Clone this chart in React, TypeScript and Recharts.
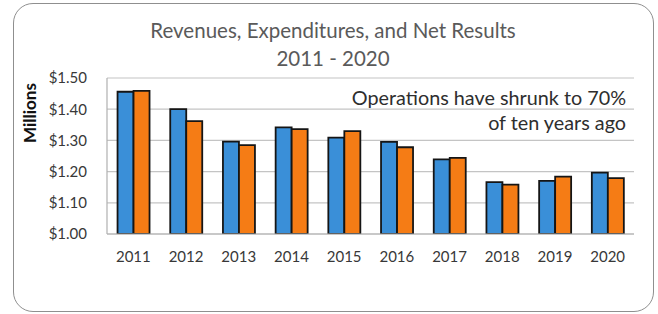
import React from 'react';
import { BarChart, Bar, XAxis, YAxis, CartesianGrid } from 'recharts';

const years = ['2011', '2012', '2013', '2014', '2015', '2016', '2017', '2018', '2019', '2020'];
const revenues = [1.456, 1.4, 1.296, 1.342, 1.309, 1.295, 1.239, 1.166, 1.17, 1.197];
const expenditures = [1.459, 1.362, 1.285, 1.336, 1.33, 1.278, 1.244, 1.158, 1.184, 1.179];
const yTicks = [1.0, 1.1, 1.2, 1.3, 1.4, 1.5];
const titleLines = ['Revenues, Expenditures, and Net Results', '2011 - 2020'];
const noteLines = ['Operations have shrunk to 70%', 'of ten years ago'];
const yAxisTitle = 'Millions';

const data = years.map((y, i) => ({ year: y, revenues: revenues[i], expenditures: expenditures[i] }));

const FONT = 'Lato, "Open Sans", sans-serif';

export default function App() {
  return (
    <div style={{ position: 'absolute', left: 0, top: 0, width: 658, height: 314, background: '#fff', fontFamily: FONT }}>
      <div
        style={{
          position: 'absolute',
          left: 13,
          top: 3,
          width: 641,
          height: 309,
          boxSizing: 'border-box',
          border: '1.5px solid #8f8f8f',
          borderRadius: 20,
        }}
      />
      <div style={{ position: 'absolute', left: 0, top: 0 }}>
        <BarChart
          width={658}
          height={314}
          data={data}
          margin={{ top: 78, right: 24, bottom: 50, left: 47 }}
          barCategoryGap="20%"
          barGap={0}
        >
          <CartesianGrid vertical={false} stroke="#c4c4c4" strokeWidth={1.2} />
          <XAxis
            dataKey="year"
            height={30}
            tickLine={false}
            tickSize={0}
            tickMargin={17}
            axisLine={{ stroke: '#b0b0b0', strokeWidth: 1.2 }}
            tick={{ fill: '#383838', fontSize: 15, fontFamily: FONT }}
            interval={0}
          />
          <YAxis
            width={60}
            domain={[1.0, 1.5]}
            ticks={yTicks}
            tickFormatter={(v: number) => '$' + v.toFixed(2)}
            tickLine={false}
            tickSize={0}
            tickMargin={20}
            axisLine={{ stroke: '#b0b0b0', strokeWidth: 1.2 }}
            tick={{ fill: '#383838', fontSize: 15, fontFamily: FONT }}
            allowDataOverflow
          />
          <Bar dataKey="revenues" fill="#3a8fd8" stroke="#151515" strokeWidth={1.8} isAnimationActive={false} />
          <Bar dataKey="expenditures" fill="#f57c15" stroke="#151515" strokeWidth={1.8} isAnimationActive={false} />
        </BarChart>
      </div>
      {titleLines.map((t, i) => (
        <div
          key={t}
          style={{
            position: 'absolute',
            left: 333,
            top: 30 + i * 28,
            transform: 'translate(-50%, -50%)',
            whiteSpace: 'nowrap',
            fontSize: 20.5,
            color: '#5a5a5a',
          }}
        >
          {t}
        </div>
      ))}
      {noteLines.map((t, i) => (
        <div
          key={t}
          style={{
            position: 'absolute',
            right: 658 - 626,
            top: 97 + i * 25,
            transform: 'translateY(-50%)',
            whiteSpace: 'nowrap',
            fontSize: 19.8,
            color: '#2e2e2e',
          }}
        >
          {t}
        </div>
      ))}
      <div
        style={{
          position: 'absolute',
          left: 29,
          top: 113,
          transform: 'translate(-50%, -50%) rotate(-90deg)',
          whiteSpace: 'nowrap',
          fontSize: 17,
          fontWeight: 700,
          color: '#111',
        }}
      >
        {yAxisTitle}
      </div>
    </div>
  );
}
